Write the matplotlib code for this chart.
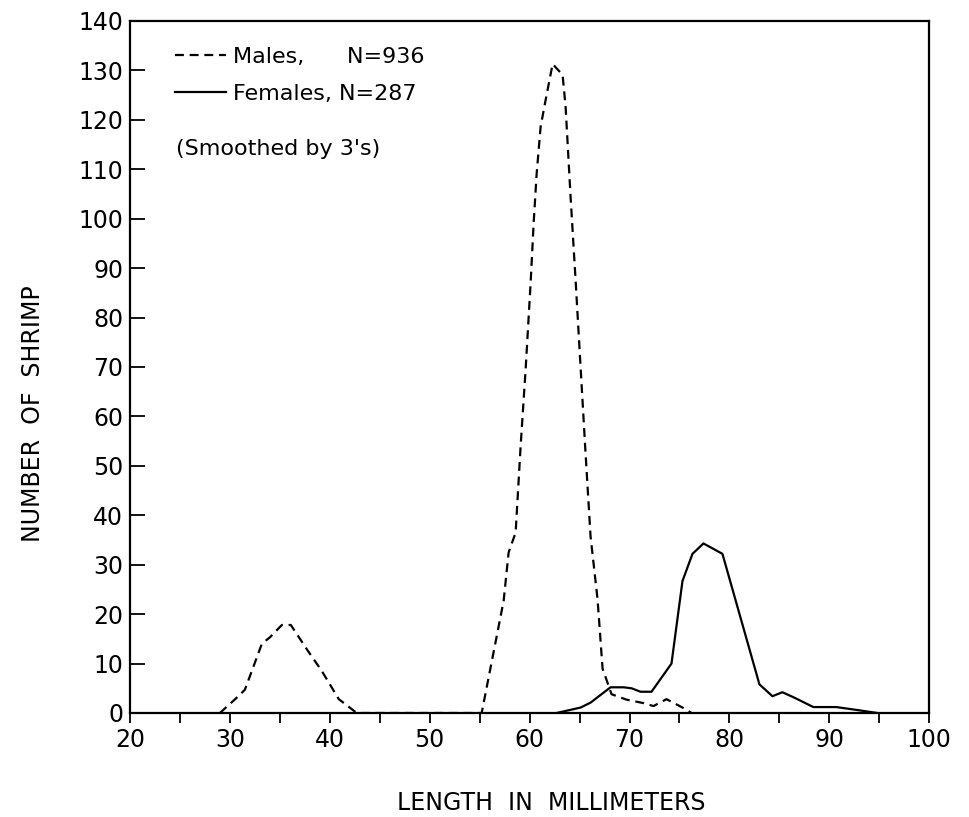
import matplotlib
matplotlib.use("Agg")
import matplotlib.pyplot as plt

# ---- data ----
male_len = [29.0, 30.8, 31.5, 33.2, 34.0, 35.2, 36.1, 37.8, 39.2, 40.9, 42.7,
            55.2, 57.4, 57.9, 58.6, 59.1, 59.6, 60.1, 60.4, 60.7, 61.1, 61.6,
            62.3, 63.3, 63.6, 64.1, 64.6, 65.1, 65.6, 66.1, 66.8, 67.3, 68.2,
            69.7, 71.4, 72.4, 73.7, 75.4, 76.2]
male_n = [0, 3.3, 4.7, 14, 15.3, 17.8, 17.8, 12.6, 8.5, 2.8, 0,
          0, 22.7, 32.5, 36.5, 54, 69.5, 87, 99, 109, 118.6, 124,
          131.3, 129.1, 122.7, 104.4, 87.6, 70, 52.5, 35.7, 23, 9, 3.8,
          2.7, 2.0, 1.4, 2.8, 1.0, 0]

fem_len = [62.7, 65.1, 66.1, 68.1, 69.4, 70.2, 71.1, 72.2, 74.2, 75.3, 76.3,
           77.4, 79.3, 83.0, 84.3, 85.3, 86.5, 88.4, 90.7, 92.8, 94.8]
fem_n = [0, 1.1, 2.1, 5.2, 5.2, 5.0, 4.3, 4.3, 10, 26.7, 32.2,
         34.3, 32.2, 5.8, 3.4, 4.2, 3.1, 1.2, 1.2, 0.6, 0]

x_ticks = [20, 25, 30, 35, 40, 45, 50, 55, 60, 65, 70, 75, 80, 85, 90, 95, 100]
x_labels = ["20", "", "30", "", "40", "", "50", "", "60", "", "70", "", "80",
            "", "90", "", "100"]
y_ticks = list(range(0, 141, 10))
y_labels = [str(v) for v in y_ticks]

male_label = "Males,      N=936"
fem_label = "Females, N=287"
note = "(Smoothed by 3's)"
xlabel = "LENGTH  IN  MILLIMETERS"
ylabel = "NUMBER  OF  SHRIMP"

plt.rcParams['font.family'] = ['DejaVu Sans']

fig = plt.figure(figsize=(9.7, 8.17), dpi=100)
ax = fig.add_axes([0.134, 0.1273, 0.824, 0.847])

lm, = ax.plot(male_len, male_n, color='black', lw=1.6, linestyle=(0, (4, 2.6)),
              label=male_label, zorder=2)
lf, = ax.plot(fem_len, fem_n, color='black', lw=1.6, label=fem_label, zorder=2)

ax.set_xlim(20, 100)
ax.set_ylim(0, 140)

for s in ax.spines.values():
    s.set_linewidth(1.6)
    s.set_zorder(3)

ax.set_xticks(x_ticks)
ax.set_xticklabels(x_labels, fontsize=17)
ax.set_yticks(y_ticks)
ax.set_yticklabels(y_labels, fontsize=17)
ax.tick_params(axis='x', direction='out', length=7, width=1.3, pad=4)
ax.tick_params(axis='y', direction='in', length=11, width=1.3, pad=5)

leg = ax.legend(handles=[lm, lf], loc='upper left', bbox_to_anchor=(0.045, 0.975),
                frameon=False, fontsize=16, handlelength=2.3, handletextpad=0.3,
                labelspacing=0.75, borderaxespad=0)
ax.text(0.058, 0.815, note, transform=ax.transAxes, fontsize=16,
        ha='left', va='center')

fig.text(551 / 970, 1 - 803 / 817, xlabel, ha='center', va='center', fontsize=17)
fig.text(33 / 970, 1 - 414 / 817, ylabel, ha='center', va='center', fontsize=17,
         rotation=90)

fig.savefig("out.png", dpi=100, facecolor='white')
